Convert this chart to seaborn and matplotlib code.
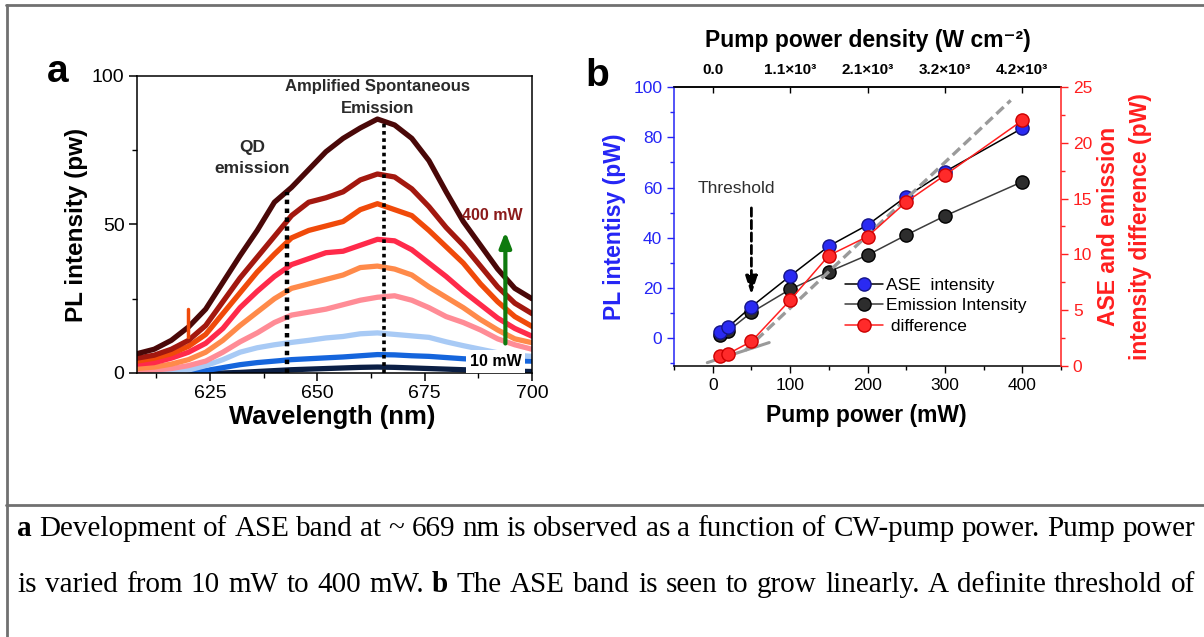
import matplotlib
matplotlib.use("Agg")
import numpy as np
import pandas as pd
import matplotlib.pyplot as plt
import seaborn as sns
from matplotlib.lines import Line2D
from matplotlib.ticker import MultipleLocator

# ---------------- data: panel a (PL spectra) ----------------
wavelength = [608, 612, 616, 620, 624, 628, 632, 636, 640, 644, 648, 652,
              656, 660, 664, 668, 672, 676, 680, 684, 688, 692, 696, 700]
power_labels = ["10 mW", "20 mW", "50 mW", "100 mW", "150 mW",
                "200 mW", "250 mW", "300 mW", "400 mW"]
spec_10 = [0, 0, 0, 0, 0, 0, 0.2, 0.5, 0.8, 1.1, 1.3, 1.5,
           1.7, 1.9, 2.0, 1.9, 1.7, 1.5, 1.3, 1.1, 0.9, 0.7, 0.6, 0.5]
spec_20 = [0, 0, 0, 0.3, 0.8, 1.8, 2.8, 3.5, 4.0, 4.5, 4.8, 5.1,
           5.4, 5.8, 6.2, 6.1, 5.8, 5.6, 5.2, 4.8, 4.5, 4.3, 4.1, 4.0]
spec_50 = [0, 0, 0.3, 1.0, 2.5, 4.5, 7.0, 8.5, 9.5, 10.3, 11.0, 11.8,
           12.3, 13.2, 13.5, 13.0, 12.5, 12.0, 10.5, 9.2, 8.0, 6.8, 6.0, 5.6]
spec_100 = [0.5, 1.0, 1.5, 2.5, 4.0, 7.0, 10.5, 13.5, 17.0, 19.5, 20.5, 21.5,
            23.0, 24.5, 25.5, 26.0, 24.5, 22.0, 19.0, 17.0, 14.5, 11.5, 9.5, 8.0]
spec_150 = [1.5, 2.0, 3.0, 4.5, 7.0, 11.0, 16.0, 20.5, 25.0, 28.5, 30.0, 31.5,
            33.0, 35.5, 36.0, 35.0, 33.0, 29.0, 25.5, 22.0, 18.0, 14.5, 11.5, 10.2]
spec_200 = [3.0, 3.5, 5.0, 7.0, 10.0, 15.0, 22.0, 27.5, 32.5, 36.5, 38.5, 40.5,
            41.0, 43.0, 45.0, 44.5, 41.5, 37.0, 32.5, 27.5, 23.0, 18.5, 15.0, 12.4]
spec_250 = [4.0, 5.0, 6.5, 9.0, 13.0, 20.0, 27.0, 34.0, 40.0, 45.5, 48.0, 49.5,
            51.0, 55.0, 57.0, 55.0, 53.0, 48.0, 42.5, 37.0, 30.0, 24.0, 19.0, 15.7]
spec_300 = [5.0, 6.0, 8.0, 11.0, 16.0, 24.0, 32.0, 39.0, 46.0, 53.0, 57.5, 59.0,
            61.0, 65.0, 67.0, 66.0, 62.0, 56.0, 49.0, 43.0, 36.0, 29.0, 23.5, 20.0]
spec_400 = [6.5, 8.0, 11.0, 15.5, 21.5, 30.5, 39.5, 48.0, 57.5, 62.5, 68.5, 74.5,
            79.0, 82.5, 85.5, 83.5, 79.0, 71.5, 61.0, 51.0, 43.0, 35.0, 28.5, 25.0]
spectra = [spec_10, spec_20, spec_50, spec_100, spec_150,
           spec_200, spec_250, spec_300, spec_400]
spec_colors = ["#0b1f45", "#1565dc", "#a8caf5", "#ff8c96", "#ff8a4a",
               "#ff2a4a", "#f04a0a", "#a3180f", "#4a0808"]
spike_wl = [619.9, 619.9]
spike_val = [12.0, 21.4]
qd_line_wl, qd_line_top = 643.0, 61.0
ase_line_wl, ase_line_top = 665.5, 85.0

# ---------------- data: panel b ----------------
pump_power = [10, 20, 50, 100, 150, 200, 250, 300, 400]
ase_intensity = [2.5, 4.5, 12.6, 24.8, 36.7, 45.1, 56.4, 66.3, 83.6]
emission_intensity = [1.3, 3.0, 10.3, 19.5, 26.5, 33.1, 41.1, 48.7, 62.3]
difference = [0.9, 1.1, 2.2, 5.9, 9.9, 11.6, 14.7, 17.1, 22.0]
fit_high_x = [42, 385]
fit_high_y = [1.4, 23.8]
fit_low_x = [-7, 73]
fit_low_y = [0.3, 2.1]
top_tick_pos = [0, 100, 200, 300, 400]
top_tick_labels = ["0.0", "1.1×10³", "2.1×10³", "3.2×10³", "4.2×10³"]

caption_line1 = [("a", True)] + [(w, False) for w in
    "Development of ASE band at ~ 669 nm is observed as a function of CW-pump power. Pump power".split(" ")]
caption_line2 = [(w, False) for w in "is varied from 10 mW to 400 mW.".split(" ")] + [("b", True)] + \
    [(w, False) for w in "The ASE band is seen to grow linearly. A definite threshold of".split(" ")]

# ---------------- style ----------------
sns.set_style("ticks")
plt.rcParams["font.family"] = ["Liberation Sans", "DejaVu Sans"]
plt.rcParams["axes.edgecolor"] = "black"
plt.rcParams["xtick.color"] = "black"
plt.rcParams["ytick.color"] = "black"
plt.rcParams["text.color"] = "black"
plt.rcParams["axes.labelcolor"] = "black"
plt.rcParams["axes.linewidth"] = 1.1

W, H = 1204, 637
fig = plt.figure(figsize=(W / 100, H / 100), dpi=100)


def fx(px):
    return px / W


def fy(py):
    return 1 - py / H


# ================= panel a =================
ax_a = fig.add_axes([fx(137), fy(373), (532 - 137) / W, (373 - 76) / H])
rows = []
for lab, vals in zip(power_labels, spectra):
    for w, v in zip(wavelength, vals):
        rows.append({"wl": w, "I": v, "power": lab})
df_spec = pd.DataFrame(rows)
sns.lineplot(data=df_spec, x="wl", y="I", hue="power", hue_order=power_labels,
             palette=dict(zip(power_labels, spec_colors)), linewidth=3.8,
             legend=False, estimator=None, sort=False, ax=ax_a)
sns.lineplot(x=spike_wl, y=spike_val, color="#f04a0a", linewidth=2.5,
             estimator=None, sort=False, ax=ax_a)
ax_a.plot([qd_line_wl, qd_line_wl], [0, qd_line_top], color="black", lw=3.2,
          linestyle=(0, (1, 1)), dash_capstyle="butt", zorder=5)
ax_a.plot([ase_line_wl, ase_line_wl], [0, ase_line_top], color="black", lw=2.6,
          linestyle=(0, (1, 1)), dash_capstyle="butt", zorder=5)

ax_a.set_xlim(608, 700)
ax_a.set_ylim(0, 100)
ax_a.set_xticks([625, 650, 675, 700])
ax_a.set_yticks([0, 50, 100])
ax_a.xaxis.set_minor_locator(MultipleLocator(12.5))
ax_a.yaxis.set_minor_locator(MultipleLocator(25))
ax_a.tick_params(which="major", direction="out", length=6, width=1.1, labelsize=14, pad=3)
ax_a.tick_params(which="minor", direction="out", length=3.5, width=1.0)
for s in ax_a.spines.values():
    s.set_visible(True)
    s.set_linewidth(1.1)
ax_a.set_xlabel("Wavelength (nm)", fontsize=18.5, fontweight="bold")
ax_a.set_ylabel("PL intensity (pw)", fontsize=17.5, fontweight="bold")
ax_a.xaxis.label.set_va("center")
ax_a.yaxis.label.set_va("center")
ax_a.xaxis.set_label_coords(0.494, -0.147)
ax_a.yaxis.set_label_coords(-0.154, 0.498)

ax_a.text(664, 96.5, "Amplified Spontaneous", ha="center", va="center",
          fontsize=12, fontweight="bold", color="#2a2a2a")
ax_a.text(664, 89, "Emission", ha="center", va="center",
          fontsize=12, fontweight="bold", color="#2a2a2a")
ax_a.text(634.8, 75.8, "QD", ha="center", va="center",
          fontsize=12.5, fontweight="bold", color="#2a2a2a")
ax_a.text(634.8, 68.7, "emission", ha="center", va="center",
          fontsize=12.5, fontweight="bold", color="#2a2a2a")
ax_a.text(690.7, 52.9, "400 mW", ha="center", va="center",
          fontsize=11.5, fontweight="bold", color="#8b1a1a")
ax_a.annotate("", xy=(693.8, 48.5), xytext=(693.8, 9),
              arrowprops=dict(arrowstyle="-|>,head_width=0.35,head_length=0.9",
                              lw=3, color="#0e7a0e"), zorder=6)
ax_a.text(691.5, 3.9, "10 mW", ha="center", va="center", fontsize=11.5,
          fontweight="bold", color="black", zorder=7,
          bbox=dict(boxstyle="square,pad=0.25", fc="white", ec="none"))

fig.text(fx(58), fy(72), "a", fontsize=28, fontweight="bold", ha="center", va="center")
fig.text(fx(597), fy(76), "b", fontsize=28, fontweight="bold", ha="center", va="center")

# ================= panel b =================
ax_b = fig.add_axes([fx(674), fy(366), (1061 - 674) / W, (366 - 87) / H])
blue = "#2525f5"
red = "#ff1f1f"
sns.lineplot(x=pump_power, y=emission_intensity, ax=ax_b, color="#3c3c3c", linewidth=1.1,
             marker="o", markersize=9.5, markerfacecolor="#2d2d2d",
             markeredgecolor="black", markeredgewidth=1.0, estimator=None)
sns.lineplot(x=pump_power, y=ase_intensity, ax=ax_b, color="black", linewidth=1.1,
             marker="o", markersize=9.5, markerfacecolor="#2a2af2",
             markeredgecolor="#14148a", markeredgewidth=1.0, estimator=None)
ax_b.set_xlim(-50, 450)
ax_b.set_ylim(-11, 100)
ax_b.set_xticks([0, 100, 200, 300, 400])
ax_b.set_yticks([0, 20, 40, 60, 80, 100])
ax_b.xaxis.set_minor_locator(MultipleLocator(50))
ax_b.yaxis.set_minor_locator(MultipleLocator(10))
ax_b.tick_params(axis="x", which="major", direction="out", length=5, width=1.0, labelsize=12.5)
ax_b.tick_params(axis="x", which="minor", direction="out", length=3, width=1.0)
ax_b.tick_params(axis="y", which="major", direction="out", length=5, width=1.0,
                 labelsize=12.5, colors=blue)
ax_b.tick_params(axis="y", which="minor", direction="out", length=3, width=1.0, colors=blue)
ax_b.spines["left"].set_color(blue)
ax_b.spines["right"].set_visible(False)
ax_b.spines["top"].set_visible(True)
ax_b.set_xlabel("Pump power (mW)", fontsize=16.5, fontweight="bold")
ax_b.set_ylabel("PL intentisy (pW)", fontsize=16.5, fontweight="bold", color=blue)
ax_b.xaxis.label.set_va("center")
ax_b.yaxis.label.set_va("center")
ax_b.xaxis.set_label_coords(0.498, -0.176)
ax_b.yaxis.set_label_coords(-0.155, 0.50)

ax_b.text(31, 59.8, "Threshold", ha="center", va="center", fontsize=12.5, color="#2e2e2e")
ax_b.annotate("", xy=(50, 16.2), xytext=(50, 53),
              arrowprops=dict(arrowstyle="-|>,head_width=0.35,head_length=1.1",
                              lw=2, color="black", linestyle=(0, (3, 1.5))))

sec = ax_b.secondary_xaxis("top")
sec.set_xticks(top_tick_pos)
sec.set_xticklabels(top_tick_labels, fontsize=11, fontweight="bold")
sec.tick_params(direction="in", length=4, width=1.0, pad=7)
ax_b.text(0.501, 1.168, "Pump power density (W cm⁻²)", transform=ax_b.transAxes,
          ha="center", va="center", fontsize=16.5, fontweight="bold")

ax_r = ax_b.twinx()
sns.lineplot(x=fit_low_x, y=fit_low_y, ax=ax_r, color="#9a9a9a", linewidth=2.2,
             estimator=None, sort=False)
sns.lineplot(x=fit_high_x, y=fit_high_y, ax=ax_r, color="#9a9a9a", linewidth=2.4,
             linestyle=(0, (3, 1.5)), estimator=None, sort=False)
sns.lineplot(x=pump_power, y=difference, ax=ax_r, color=red, linewidth=1.1,
             marker="o", markersize=9.5, markerfacecolor="#ff2a2a",
             markeredgecolor="#cc0000", markeredgewidth=1.0, estimator=None)
ax_r.set_ylim(0, 25)
ax_r.set_yticks([0, 5, 10, 15, 20, 25])
ax_r.yaxis.set_minor_locator(MultipleLocator(2.5))
ax_r.tick_params(axis="y", which="major", direction="out", length=5, width=1.0,
                 labelsize=12.5, colors=red)
ax_r.tick_params(axis="y", which="minor", direction="out", length=3, width=1.0, colors=red)
ax_r.spines["right"].set_color(red)
for k in ["left", "top", "bottom"]:
    ax_r.spines[k].set_visible(False)
ax_r.set_ylabel("ASE and emission\nintensity difference (pW)", fontsize=16.5,
                fontweight="bold", color=red, linespacing=1.5)
ax_r.yaxis.label.set_va("center")
ax_r.yaxis.label.set_ha("center")
ax_r.yaxis.set_label_coords(1.165, 0.5)

handles = [
    Line2D([], [], color="black", lw=1.1, marker="o", ms=9.5, mfc="#2a2af2", mec="#14148a"),
    Line2D([], [], color="#3c3c3c", lw=1.1, marker="o", ms=9.5, mfc="#2d2d2d", mec="black"),
    Line2D([], [], color=red, lw=1.1, marker="o", ms=9.5, mfc="#ff2a2a", mec="#cc0000"),
]
ax_r.legend(handles, ["ASE  intensity", "Emission Intensity", " difference"],
            loc="center left", bbox_to_anchor=(0.442, 0.216), frameon=False,
            fontsize=12.5, handlelength=2.2, handletextpad=0.15, labelspacing=0.32,
            borderpad=0, borderaxespad=0)

# ================= border & caption =================
lc = "#707070"
fig.add_artist(Line2D([fx(6), 1.0], [fy(5), fy(5)], color=lc, lw=2, transform=fig.transFigure))
fig.add_artist(Line2D([fx(7), fx(7)], [fy(5), 0.0], color=lc, lw=2, transform=fig.transFigure))
fig.add_artist(Line2D([fx(6), 1.0], [fy(505), fy(505)], color=lc, lw=2, transform=fig.transFigure))

renderer = fig.canvas.get_renderer()


def measure(words, size):
    ws = []
    for w, b in words:
        t = fig.text(0, 0, w, fontsize=size, family="Liberation Serif",
                     fontweight="bold" if b else "normal")
        ws.append(t.get_window_extent(renderer).width)
        t.remove()
    return ws


x0, x1 = 17, 1195
base = 20.0
w1 = measure(caption_line1, base)
space = 0.25 * base * 100 / 72
natural = sum(w1) + space * (len(caption_line1) - 1)
size = base * (x1 - x0) / natural


def draw_line(words, ybase):
    ws = measure(words, size)
    gap = (x1 - x0 - sum(ws)) / (len(words) - 1)
    x = x0
    for (w, b), wd in zip(words, ws):
        fig.text(fx(x), fy(ybase), w, fontsize=size, family="Liberation Serif",
                 fontweight="bold" if b else "normal", va="baseline", ha="left")
        x += wd + gap


draw_line(caption_line1, 536.5)
draw_line(caption_line2, 591.5)

fig.savefig("out.png", dpi=100, facecolor="white")
